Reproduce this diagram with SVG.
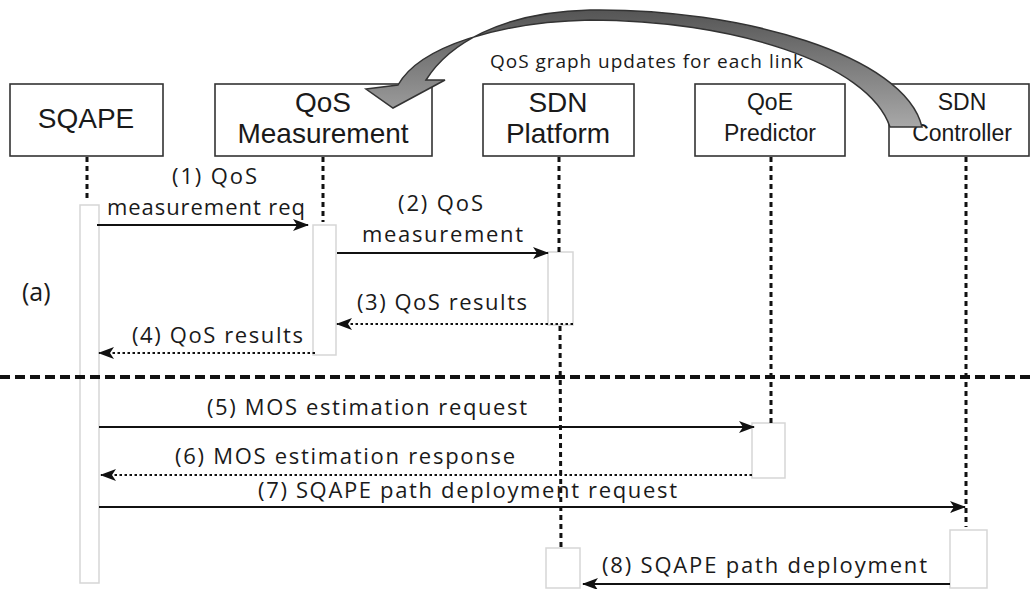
<svg xmlns="http://www.w3.org/2000/svg" width="1035" height="589" viewBox="0 0 1035 589">
<style>
.box{fill:#fff;stroke:#333;stroke-width:1.6}
.bt{font-family:"Liberation Sans",Arial,sans-serif;fill:#1a1a1a;text-anchor:middle}
.lt{font-family:"Open Sans","Noto Sans",sans-serif;fill:#1a1a1a}
.m{font-size:22px}
.life{stroke:#111;stroke-width:3;stroke-dasharray:5 4;fill:none}
.act{fill:none;stroke:#d6d6d6;stroke-width:1.5}
.solid{stroke:#111;stroke-width:2;fill:none;marker-end:url(#ah)}
.dot{stroke:#111;stroke-width:2.2;stroke-dasharray:2.5 2.5;fill:none;marker-end:url(#ah)}
</style>
<defs>
<marker id="ah" markerUnits="userSpaceOnUse" markerWidth="16" markerHeight="12" refX="15" refY="6" orient="auto">
<path d="M0,0 L16,6 L0,12 L4,6 Z" fill="#111"/>
</marker>
<linearGradient id="g" x1="0" y1="0" x2="0" y2="1">
<stop offset="0" stop-color="#555"/>
<stop offset="1" stop-color="#a8a8a8"/>
</linearGradient>
</defs>

<g id="activations">
<rect class="act" x="80" y="205" width="19" height="378"/>
<rect class="act" x="313" y="225" width="23" height="130"/>
<rect class="act" x="548" y="252" width="25" height="73"/>
<rect class="act" x="752" y="423" width="33" height="55"/>
<rect class="act" x="950" y="530" width="37" height="58"/>
<rect class="act" x="546" y="548" width="34" height="40"/>
</g>

<g id="lifelines">
<line class="life" x1="87" y1="157" x2="87" y2="200"/>
<line class="life" x1="323" y1="157" x2="323" y2="222"/>
<line class="life" x1="559" y1="157" x2="559" y2="252"/>
<line class="life" x1="560" y1="326" x2="561" y2="548"/>
<line class="life" x1="771" y1="157" x2="771" y2="423"/>
<line class="life" x1="966" y1="157" x2="966" y2="527"/>
</g>

<line id="separator" x1="0" y1="377" x2="1035" y2="377" stroke="#111" stroke-width="4" stroke-dasharray="10 5"/>

<g id="n-sqape"><rect class="box" x="10" y="84" width="153" height="72"/><text class="bt" x="86" y="128" font-size="28">SQAPE</text></g>
<g id="n-qosm"><rect class="box" x="215" y="84" width="217" height="72"/><text class="bt" x="323" y="112" font-size="28">QoS</text><text class="bt" x="323" y="143" font-size="28">Measurement</text></g>
<g id="n-sdnp"><rect class="box" x="483" y="84" width="151" height="72"/><text class="bt" x="558" y="112" font-size="28">SDN</text><text class="bt" x="558" y="143" font-size="28">Platform</text></g>
<g id="n-qoe"><rect class="box" x="695" y="84" width="150" height="72"/><text class="bt" x="770" y="110" font-size="23">QoE</text><text class="bt" x="770" y="141" font-size="23">Predictor</text></g>
<g id="n-sdnc"><rect class="box" x="889" y="84" width="140" height="72"/><text class="bt" x="962" y="110" font-size="23">SDN</text><text class="bt" x="962" y="141" font-size="23">Controller</text></g>

<g id="curved-arrow">
<path d="M922,127 C905,55 740,8 590,10 C500,12 448,45 426,80 L445,80 L393,108 L366,89 L398,85 C420,46 500,22 590,20 C730,20 868,62 890,127 Z" fill="url(#g)" stroke="#333" stroke-width="1.5"/>
<text class="lt" x="490" y="68" style="font-size:19px" textLength="313">QoS graph updates for each link</text>
</g>

<g id="connectors">
<line class="solid" x1="97" y1="225" x2="308" y2="225"/>
<line class="solid" x1="337" y1="253" x2="548" y2="253"/>
<line class="dot" x1="573" y1="324" x2="337" y2="324"/>
<line class="dot" x1="315" y1="353" x2="99" y2="353"/>
<line class="solid" x1="99" y1="427" x2="754" y2="427"/>
<line class="dot" x1="752" y1="475" x2="101" y2="475"/>
<line class="solid" x1="99" y1="507" x2="965" y2="507"/>
<line class="solid" x1="950" y1="584" x2="583" y2="584"/>
</g>

<g id="labels">
<text class="lt m" x="172" y="184" textLength="85">(1) QoS</text>
<text class="lt m" x="107" y="215" textLength="198">measurement req</text>
<text class="lt m" x="398" y="211" textLength="85">(2) QoS</text>
<text class="lt m" x="362" y="242" textLength="161">measurement</text>
<text class="lt m" x="357" y="310" textLength="170">(3) QoS results</text>
<text class="lt m" x="132" y="343" textLength="171">(4) QoS results</text>
<text class="lt m" x="207" y="415" textLength="320">(5) MOS estimation request</text>
<text class="lt m" x="175" y="464" textLength="340">(6) MOS estimation response</text>
<text class="lt m" x="258" y="498" textLength="419">(7) SQAPE path deployment request</text>
<text class="lt m" x="602" y="573" textLength="325">(8) SQAPE path deployment</text>
<text class="lt" x="22" y="301" style="font-size:25px">(a)</text>
</g>
</svg>
